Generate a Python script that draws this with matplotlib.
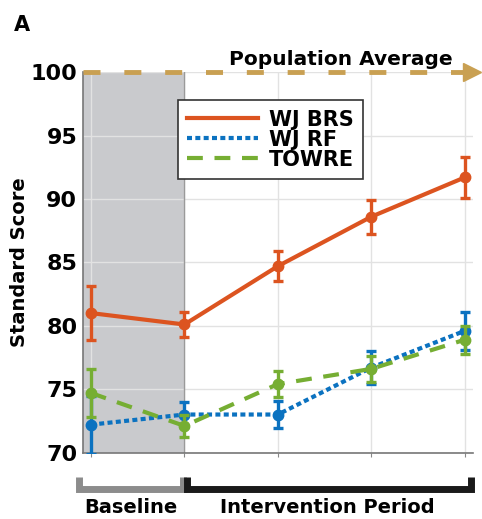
import numpy as np
import matplotlib
matplotlib.use('Agg')
import matplotlib.pyplot as plt
import matplotlib.transforms as mtransforms

plt.rcParams['font.family'] = ['DejaVu Sans']
plt.rcParams['font.weight'] = 'bold'
plt.rcParams['axes.labelweight'] = 'bold'

# data
sessions = [1, 2, 3, 4, 5]
brs_mean = [81.0, 80.1, 84.7, 88.6, 91.7]
brs_err = [2.1, 1.0, 1.2, 1.35, 1.6]
rf_mean = [72.2, 73.0, 73.0, 76.7, 79.6]
rf_err = [2.3, 0.95, 1.1, 1.3, 1.5]
towre_mean = [74.7, 72.1, 75.4, 76.6, 78.9]
towre_err = [1.9, 0.85, 1.0, 1.0, 1.1]
y_ticks = [70, 75, 80, 85, 90, 95, 100]

c_brs = '#DC5420'
c_rf = '#0B72C0'
c_towre = '#76AE33'
c_gold = '#C9A052'
ls_rf = (0, (1.2, 0.8))
ls_towre = (0, (3.8, 2.8))

fig = plt.figure(figsize=(4.82, 5.19), dpi=100)
ax = fig.add_axes([0.172, 0.128, 0.809, 0.733])

xmin, xmax = 0.914, 5.086
ax.set_xlim(xmin, xmax)
ax.set_ylim(70, 100)

# baseline shading
ax.axvspan(xmin, 2, color='#C9CACD', zorder=0.5, lw=0)
ax.axvline(2, color='#9A9A9A', lw=1, zorder=0.6)

ax.set_yticks(y_ticks)
ax.set_xticks(sessions)
ax.set_xticklabels([])
ax.grid(True, color='#E2E2E2', lw=1)
ax.set_axisbelow(True)
ax.tick_params(axis='y', length=0, pad=4, labelsize=16)
ax.tick_params(axis='x', length=3, direction='out', color='#888888')
for s in ['top', 'right']:
    ax.spines[s].set_visible(False)
for s in ['left', 'bottom']:
    ax.spines[s].set_color('#777777')
    ax.spines[s].set_linewidth(1.2)

ax.set_ylabel('Standard Score', fontsize=14, labelpad=1)

kw = dict(marker='o', ms=7.5, capsize=3.5, elinewidth=2.4, capthick=2.4, lw=3)
ax.errorbar(sessions, brs_mean, yerr=brs_err, color=c_brs, ls='-',
            label='WJ BRS', zorder=5, **kw)
ax.errorbar(sessions, rf_mean, yerr=rf_err, color=c_rf, ls=ls_rf,
            label='WJ RF', zorder=3, **kw)
ax.errorbar(sessions, towre_mean, yerr=towre_err, color=c_towre, ls=ls_towre,
            label='TOWRE', zorder=4, **kw)

# population average arrow
ax.plot([xmin, 5.02], [100, 100], color=c_gold, lw=3.5, ls=(0, (3.5, 4.9)),
        clip_on=False, zorder=6)
ax.plot([5.075], [100], marker='>', color=c_gold, ms=13, clip_on=False, zorder=6)
fig.text(0.707, 0.875, 'Population Average', ha='center', va='baseline', fontsize=14.5)

# legend
handles = [plt.Line2D([], [], color=c_brs, lw=3, ls='-'),
           plt.Line2D([], [], color=c_rf, lw=3, ls=ls_rf),
           plt.Line2D([], [], color=c_towre, lw=3, ls=ls_towre)]
leg = ax.legend(handles, ['WJ BRS', 'WJ RF', 'TOWRE'], loc='upper left',
                bbox_to_anchor=(0.244, 0.926), fontsize=15, handlelength=3.4,
                labelspacing=0.0, handletextpad=0.5, borderpad=0.45,
                borderaxespad=0, fancybox=False, framealpha=1)
leg.get_frame().set_edgecolor('#333333')
leg.get_frame().set_linewidth(1.2)

# brackets under the axis
trans = mtransforms.blended_transform_factory(ax.transData, ax.transAxes)
yb, yt = -0.097, -0.064
ax.plot([0.87, 0.87, 1.98, 1.98], [yt, yb, yb, yt], color='#8C8C8C', lw=5,
        transform=trans, clip_on=False, solid_joinstyle='miter', solid_capstyle='butt')
ax.plot([2.03, 2.03, 5.07, 5.07], [yt, yb, yb, yt], color='#1A1A1A', lw=5,
        transform=trans, clip_on=False, solid_joinstyle='miter', solid_capstyle='butt')
ax.text(1.43, -0.145, 'Baseline', transform=trans, ha='center', va='center', fontsize=14)
ax.text(3.534, -0.145, 'Intervention Period', transform=trans, ha='center', va='center',
        fontsize=14)

fig.text(0.028, 0.952, 'A', fontsize=15, fontweight='bold', ha='left', va='center')

fig.savefig('out.png', dpi=100)
